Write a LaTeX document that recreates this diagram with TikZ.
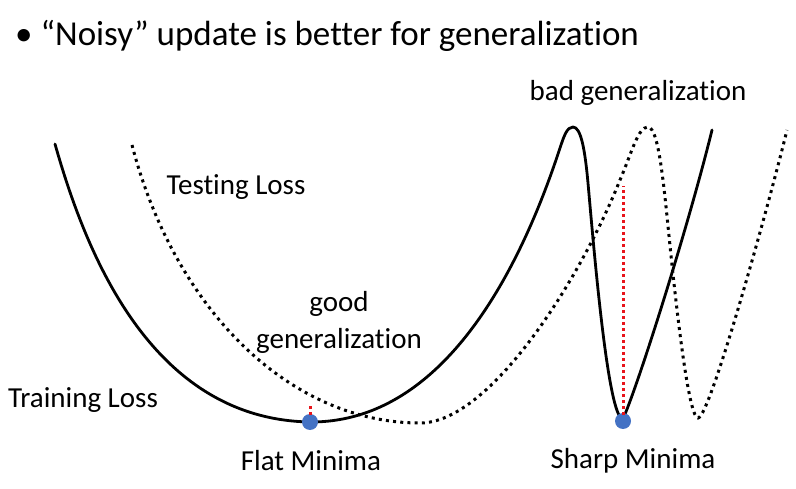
\documentclass[tikz,border=0pt]{standalone}
\usepackage{fontspec}
\setmainfont{Carlito}[Ligatures=NoCommon]
\usetikzlibrary{positioning}
\definecolor{dotblue}{HTML}{4472C4}
\definecolor{gapred}{HTML}{E8141B}

\begin{document}
\begin{tikzpicture}[
  x=1pt, y=-1pt,
  font=\fontsize{29}{37}\selectfont,
  train/.style={line width=2.8pt, black, line join=round, line cap=round},
  test/.style={line width=3pt, black, dash pattern=on 3pt off 4.2pt},
  gap/.style={line width=3pt, gapred, dash pattern=on 3pt off 3pt},
  minimum/.style={circle, fill=dotblue, inner sep=0pt, minimum size=16pt},
  label/.style={inner sep=0pt, align=center},
]
\useasboundingbox (0,0) rectangle (796,489);

% testing loss (dotted)
\draw[test] (132,145) .. controls (175,310) and (290,423) .. (420,423)
  .. controls (490,423) and (580,280) .. (620,180)
  .. controls (632,152) and (638,127) .. (648,127)
  .. controls (660,127) and (665,200) .. (672,265)
  .. controls (680,340) and (690,418) .. (698,418)
  .. controls (710,418) and (770,200) .. (787,130);

% training loss (solid)
\draw[train] (55,144) .. controls (85,250) and (150,420) .. (311,422)
  .. controls (450,422) and (525,255) .. (560,148)
  .. controls (564,136) and (567,127) .. (573,127)
  .. controls (581,127) and (585,150) .. (588,183)
  .. controls (594,250) and (608,419) .. (623,419)
  .. controls (640,380) and (690,220) .. (712,130);

% minima
\node[minimum] (flat) at (310,422) {};
\node[minimum] (sharp) at (623,421) {};
\coordinate (flattop) at (310,404);
\coordinate (sharptop) at (623,186);
\draw[gap] (flat.center) ++(0,-7) -- (flattop);
\draw[gap] (sharp.center) ++(0,-6) -- (sharptop);

% labels
\node[label, anchor=base west] (title) at (15,46) {\fontsize{35}{40}\selectfont • “Noisy” update is better for generalization};
\node[label] (bad) at (638,93) {bad generalization};
\node[label] (testing) at (236,187) {Testing Loss};
\node[label] (good) at (339,322) {good\\generalization};
\node[label] (training) at (83,400) {Training Loss};
\node[label] (flatlbl) at (311,461) {Flat Minima};
\node[label] (sharplbl) at (633,461) {Sharp Minima};
\end{tikzpicture}
\end{document}
